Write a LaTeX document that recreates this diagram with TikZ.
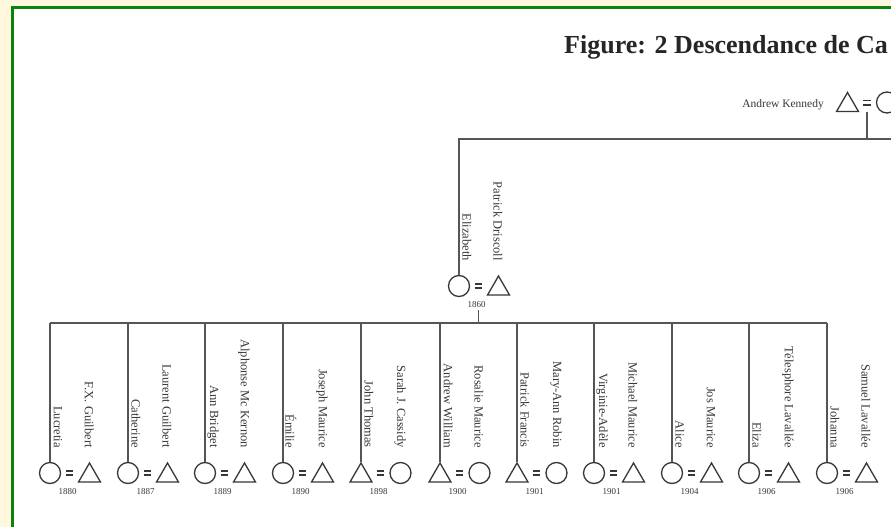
\documentclass[tikz,border=0pt]{standalone}
\usepackage{fontspec}
\setmainfont{Liberation Serif}
\usetikzlibrary{shapes.geometric}
\definecolor{cream}{RGB}{255,247,222}
\definecolor{frameg}{RGB}{12,132,12}
\definecolor{ink}{RGB}{55,55,55}
\definecolor{wire}{RGB}{85,85,85}
\tikzset{
  fem/.style={circle, draw=ink, line width=1.3pt, minimum size=21pt, inner sep=0pt},
  mal/.style={regular polygon, regular polygon sides=3, draw=ink, line width=1.3pt,
              minimum size=25.4pt, inner sep=0pt, yshift=-2.7pt},
  lbl/.style={rotate=-90, anchor=east, font=\fontsize{12.5}{13}\selectfont, text=ink, inner sep=0pt},
  yr/.style={font=\fontsize{9}{10}\selectfont, text=ink, inner sep=0pt},
  conn/.style={draw=wire, line width=1.4pt},
  eqs/.style={draw=ink, line width=1.6pt},
}
\newcommand{\cpl}[8]{%
  \node[#4] (a#1) at (#2,#3) {};
  \node[#5] (b#1) at (#2+39.5,#3) {};
  \coordinate (e#1) at (#2+19.5,#3);
  \draw[eqs] ([xshift=-3.8pt,yshift=2.2pt]e#1) -- ([xshift=3.8pt,yshift=2.2pt]e#1)
             ([xshift=-3.8pt,yshift=-2.2pt]e#1) -- ([xshift=3.8pt,yshift=-2.2pt]e#1);
  \node[lbl] (la#1) at (#2+8,#3-25) {#6};
  \node[lbl] (lb#1) at (#2+39,#3-25) {#7};
  \node[yr] (y#1) at (#2+17.5,#3+19) {#8};
}
\begin{document}
\begin{tikzpicture}[x=1pt,y=-1pt]
\useasboundingbox (0,0) rectangle (891,527);
\clip (0,0) rectangle (891,527);
% background and frame
\fill[cream] (0,0) rectangle (891,527);
\fill[white] (12.5,7.5) rectangle (900,540);
\draw[frameg, line width=3pt] (12.5,540) -- (12.5,7.5) -- (900,7.5);

% title
\node[anchor=base west, inner sep=0pt, text=black!85,
      font=\bfseries\fontsize{26}{28}\selectfont] (title) at (564,53) {Figure: 2 Descendance de Ca};

% first generation
\node[mal] (aK) at (847.5,102.5) {};
\node[fem] (bK) at (887,102.5) {};
\coordinate (eK) at (867,102.5);
\draw[eqs] ([xshift=-3.8pt,yshift=2.2pt]eK) -- ([xshift=3.8pt,yshift=2.2pt]eK)
           ([xshift=-3.8pt,yshift=-2.2pt]eK) -- ([xshift=3.8pt,yshift=-2.2pt]eK);
\node[anchor=east, inner sep=0pt, text=ink, font=\fontsize{11.5}{12}\selectfont] (lK) at (824,105) {Andrew Kennedy};

% second generation
\cpl{0}{459}{286}{fem}{mal}{Elizabeth}{Patrick Driscoll}{1860}

% third generation
\cpl{1}{50}{473}{fem}{mal}{Lucretia}{F.X. Guilbert}{1880}
\cpl{2}{128}{473}{fem}{mal}{Catherine}{Laurent Guilbert}{1887}
\cpl{3}{205}{473}{fem}{mal}{Ann Bridget}{Alphonse Mc Kernon}{1889}
\cpl{4}{283}{473}{fem}{mal}{Émilie}{Joseph Maurice}{1890}
\cpl{5}{361}{473}{mal}{fem}{John Thomas}{Sarah J. Cassidy}{1898}
\cpl{6}{440}{473}{mal}{fem}{Andrew William}{Rosalie Maurice}{1900}
\cpl{7}{517}{473}{mal}{fem}{Patrick Francis}{Mary-Ann Robin}{1901}
\cpl{8}{594}{473}{fem}{mal}{Virginie-Adèle}{Michael Maurice}{1901}
\cpl{9}{672}{473}{fem}{mal}{Alice}{Jos Maurice}{1904}
\cpl{10}{749}{473}{fem}{mal}{Eliza}{Télesphore Lavallée}{1906}
\cpl{11}{827}{473}{fem}{mal}{Johanna}{Samuel Lavallée}{1906}

% connectors
\coordinate (topbar) at (0,139);
\coordinate (midbar) at (0,323);
\coordinate (topR) at (900,139);
\draw[conn] ([yshift=-9.5pt]eK) -- (eK |- topbar);
\draw[conn] (topR) -- (a0.north |- topbar) -- (a0.north);
\draw[conn] (y0.south -| e0) ++(0,2) -- (e0 |- midbar);
\draw[conn] (a1.north |- midbar) -- (a11.north |- midbar);
\foreach \i in {1,...,11}{
  \draw[conn] (a\i.north) -- (a\i.north |- midbar);
}
\end{tikzpicture}
\end{document}
